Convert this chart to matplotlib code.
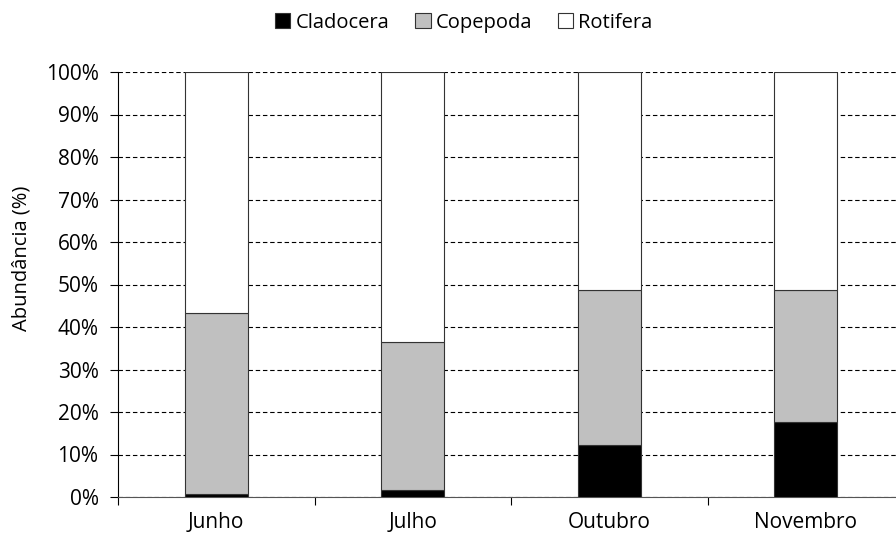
import matplotlib.pyplot as plt
import numpy as np
from matplotlib.ticker import FuncFormatter

plt.rcParams['font.family'] = ['Open Sans', 'DejaVu Sans']

## dados
meses = ['Junho', 'Julho', 'Outubro', 'Novembro']
cladocera = [0.7, 1.7, 12.2, 17.6]
copepoda = [42.6, 34.8, 36.5, 31.1]
rotifera = [56.7, 63.5, 51.3, 51.3]

## figura
fig = plt.figure(figsize=(8.96, 5.4), dpi=100)
ax = fig.add_axes([118/896, 43/540, 786/896, 425/540])

x = np.arange(len(meses))
w = 0.32
base2 = np.array(cladocera)
base3 = base2 + np.array(copepoda)
ax.bar(x, cladocera, w, color='black', edgecolor='#333333', linewidth=0.8,
       label='Cladocera', zorder=3)
ax.bar(x, copepoda, w, bottom=base2, color='#C0C0C0', edgecolor='#333333',
       linewidth=0.8, label='Copepoda', zorder=3)
ax.bar(x, rotifera, w, bottom=base3, color='white', edgecolor='#333333',
       linewidth=0.8, label='Rotifera', zorder=3)

ax.set_xlim(-0.5, 3.5)
ax.set_ylim(0, 100)
ax.set_yticks(np.arange(0, 101, 10))
ax.yaxis.set_major_formatter(FuncFormatter(lambda v, p: '%d%%' % v))
ax.set_xticks(x)
ax.set_xticklabels(meses)
ax.set_xticks(np.arange(-0.5, 3.6, 1), minor=True)
ax.tick_params(axis='x', which='major', length=0, pad=11, labelsize=15)
ax.tick_params(axis='x', which='minor', length=6, width=0.8)
ax.tick_params(axis='y', length=6, width=0.8, labelsize=15, pad=8)

ax.yaxis.grid(True, linestyle=(0, (4, 2.5)), color='black', linewidth=0.8, zorder=0)
for s in ['top', 'right']:
    ax.spines[s].set_visible(False)
ax.spines['left'].set_linewidth(0.8)
ax.spines['bottom'].set_linewidth(0.8)
ax.spines['bottom'].set_color('#555555')

# rótulo do eixo y (um pouco acima do centro, como no original)
fig.text(22/896, 1 - 258/540, 'Abundância (%)', rotation=90, fontsize=14.5,
         ha='center', va='center')

fig.legend(loc='upper center', bbox_to_anchor=(464/896, 1.01), ncol=3, frameon=False,
           fontsize=14.5, handlelength=0.75, handleheight=0.75, handletextpad=0.25,
           columnspacing=1.3)

fig.savefig('out.png', dpi=100)
